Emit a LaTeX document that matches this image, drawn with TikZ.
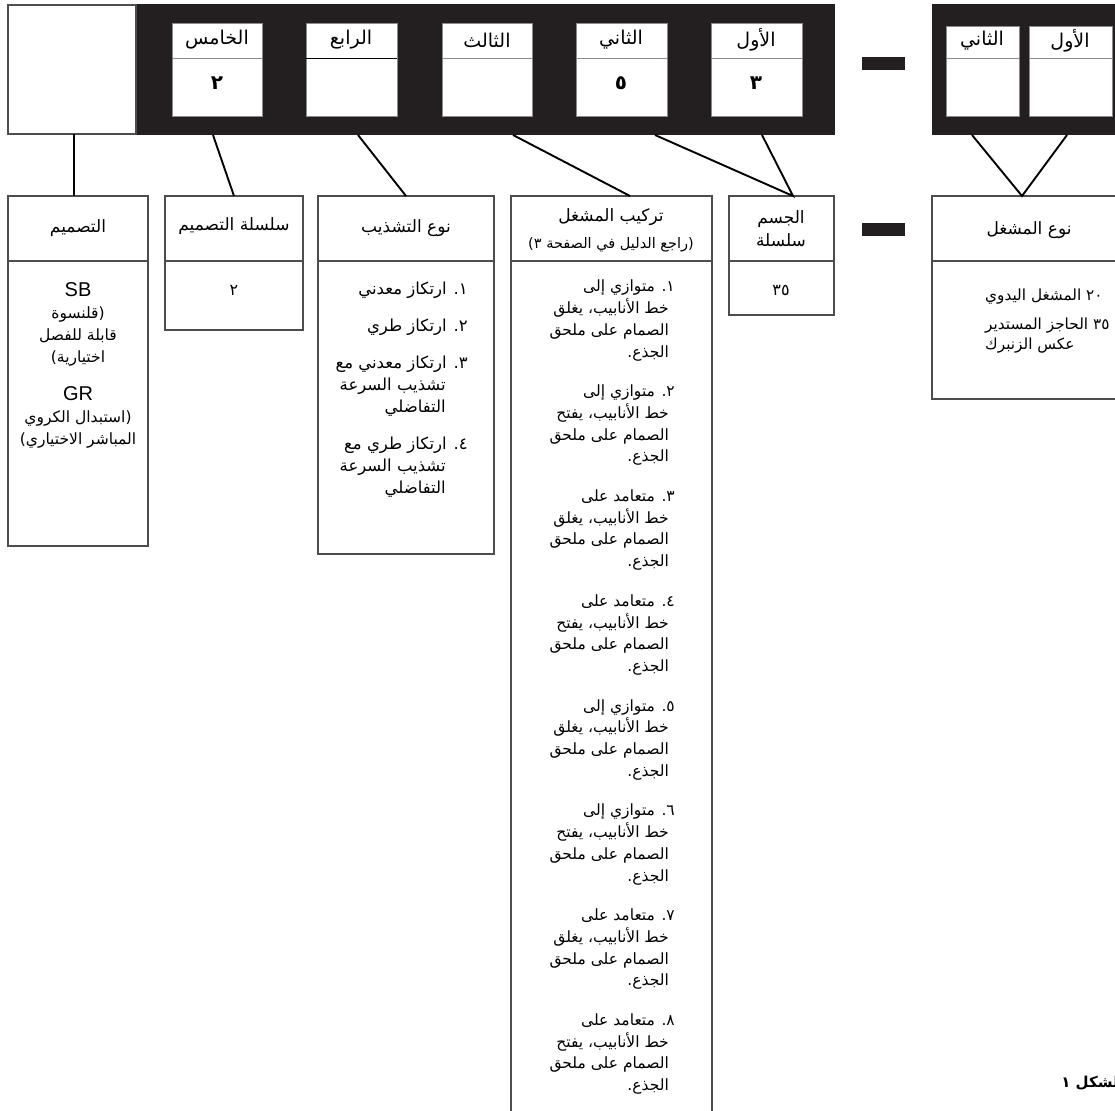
\documentclass[tikz,border=0pt]{standalone}
\usepackage{fontspec}
\setmainfont{Liberation Sans}
\newfontfamily\arabicfont[Script=Arabic]{DejaVu Sans}
\TeXXeTstate=1

\definecolor{barblack}{HTML}{231F20}
\definecolor{slotgray}{HTML}{8A8A8A}
\definecolor{panelgray}{HTML}{4D4D4D}

\newcommand{\arline}[1]{\beginR #1\endR}

\begin{document}
\begin{tikzpicture}[x=1pt, y=-1pt,
    bar/.style={fill=barblack, inner sep=0pt, outer sep=0pt, anchor=north west},
    slot/.style={fill=white, draw=slotgray, line width=0.8pt, inner sep=0pt, outer sep=0pt, anchor=north west},
    panel/.style={fill=white, draw=panelgray, line width=1.1pt, inner sep=0pt, outer sep=0pt, anchor=north west},
    slotline/.style={draw=slotgray, line width=1pt},
    panelline/.style={draw=panelgray, line width=1.1pt},
    link/.style={line width=1.9pt, black},
    slotlbl/.style={font=\arabicfont\fontsize{19}{22}\selectfont, inner sep=0pt},
    slotval/.style={font=\arabicfont\bfseries\fontsize{20}{22}\selectfont, inner sep=0pt},
    hdr/.style={font=\arabicfont\fontsize{17}{23}\selectfont, align=center, inner sep=0pt},
    subhdr/.style={font=\arabicfont\fontsize{14.5}{16}\selectfont, inner sep=0pt},
    bodytxt/.style={font=\arabicfont\fontsize{16}{22}\selectfont, inner sep=0pt}]

\useasboundingbox (0,0) rectangle (1115,1110);
\clip (0,0) rectangle (1115,1110);

% Top bars
\node[bar, minimum width=699pt, minimum height=131pt] (codebar) at (136,4) {};
\node[panel, minimum width=128pt, minimum height=129pt] (blank) at (8,5) {};
\node[bar, minimum width=43pt, minimum height=13pt] (dashtop) at (862,57) {};
\node[bar, minimum width=200pt, minimum height=131pt] (actbar) at (932,4) {};

% Slots of the code
\node[slot, minimum width=90pt, minimum height=93pt] (fifth) at (172,23) {};
\node[slot, minimum width=91pt, minimum height=93pt] (fourth) at (306,23) {};
\node[slot, minimum width=90pt, minimum height=93pt] (third) at (442,23) {};
\node[slot, minimum width=91pt, minimum height=93pt] (second) at (576,23) {};
\node[slot, minimum width=91pt, minimum height=93pt] (first) at (711,23) {};
\node[slot, minimum width=73pt, minimum height=90pt] (actsecond) at (946,26) {};
\node[slot, minimum width=83pt, minimum height=90pt] (actfirst) at (1029,26) {};

\draw[slotline] ([yshift=-36pt]fifth.north west) -- ([yshift=-36pt]fifth.north east);
\draw[slotline, draw=black] ([yshift=-36pt]fourth.north west) -- ([yshift=-36pt]fourth.north east);
\draw[slotline] ([yshift=-36pt]third.north west) -- ([yshift=-36pt]third.north east);
\draw[slotline] ([yshift=-36pt]second.north west) -- ([yshift=-36pt]second.north east);
\draw[slotline] ([yshift=-36pt]first.north west) -- ([yshift=-36pt]first.north east);
\draw[slotline] ([yshift=-33pt]actsecond.north west) -- ([yshift=-33pt]actsecond.north east);
\draw[slotline] ([yshift=-33pt]actfirst.north west) -- ([yshift=-33pt]actfirst.north east);

\node[slotlbl] (fifthlbl) at (217,40) {\arline{الخامس}};
\node[slotlbl] (fourthlbl) at (351,40) {\arline{الرابع}};
\node[slotlbl] (thirdlbl) at (487,40) {\arline{الثالث}};
\node[slotlbl] (secondlbl) at (621,40) {\arline{الثاني}};
\node[slotlbl] (firstlbl) at (756,40) {\arline{الأول}};
\node[slotlbl] (actsecondlbl) at (982,41) {\arline{الثاني}};
\node[slotlbl] (actfirstlbl) at (1070,41) {\arline{الأول}};

\node[slotval] (fifthval) at (217,83) {\arline{٢}};
\node[slotval] (secondval) at (621,83) {\arline{٥}};
\node[slotval] (firstval) at (756,83) {\arline{٣}};

% Lower panels
\node[panel, minimum width=140pt, minimum height=350pt] (design) at (8,196) {};
\node[panel, minimum width=138pt, minimum height=134pt] (dseries) at (165,196) {};
\node[panel, minimum width=176pt, minimum height=358pt] (trim) at (318,196) {};
\node[panel, minimum width=201pt, minimum height=930pt] (mount) at (511,196) {};
\node[panel, minimum width=105pt, minimum height=119pt] (body) at (729,196) {};
\node[bar, minimum width=43pt, minimum height=13pt] (dashlow) at (862,223) {};
\node[panel, minimum width=200pt, minimum height=203pt] (acttype) at (932,196) {};

\foreach \p in {design, dseries, trim, mount, body, acttype}
  \draw[panelline] ([yshift=-65pt]\p.north west) -- ([yshift=-65pt]\p.north east);

% Connectors
\coordinate (b5) at (213,135);
\coordinate (b4) at (358,135);
\coordinate (b3) at (513,135);
\coordinate (b2) at (655,135);
\coordinate (b1) at (762,135);
\coordinate (m3) at (630,196);
\coordinate (m1) at (793,196);
\coordinate (ra) at (972,135);
\coordinate (rb) at (1067,135);
\coordinate (ma) at (1022,196);

\draw[link] ([xshift=2pt]blank.south) -- ([xshift=2pt]blank.south |- design.north);
\draw[link] (b5) -- (dseries.north);
\draw[link] (b4) -- (trim.north);
\draw[link] (b3) -- (m3);
\draw[link] (b2) -- (m1) -- (b1);
\draw[link] (ra) -- (ma) -- (rb);

% Headers
\node[hdr] (designhd) at (78,228) {\arline{التصميم}};
\node[hdr] (dserieshd) at (234,226) {\arline{سلسلة التصميم}};
\node[hdr] (trimhd) at (406,228) {\arline{نوع التشذيب}};
\node[hdr] (mounthd) at (611,217) {\arline{تركيب المشغل}};
\node[subhdr] (mountsub) at (611,245) {\arline{(راجع الدليل في الصفحة ٣)}};
\node[hdr] (bodyhd) at (781,229) {\arline{الجسم}\\\arline{سلسلة}};
\node[hdr] (acthd) at (1029,230) {\arline{نوع المشغل}};

% Panel contents
\node[bodytxt, anchor=north, align=center, font=\arabicfont\fontsize{15.5}{22}\selectfont] (designtxt) at (78,282) {%
  {\rmfamily\fontsize{20}{22}\selectfont SB}\\
  \arline{(قلنسوة}\\ \arline{قابلة للفصل}\\ \arline{اختيارية)}\\[16pt]
  {\rmfamily\fontsize{20}{22}\selectfont GR}\\
  \arline{(استبدال الكروي}\\ \arline{المباشر الاختياري)}};
\node[bodytxt] (dseriesval) at (234,290) {\arline{٢}};
\node[bodytxt, anchor=north east, align=right, font=\arabicfont\fontsize{16.5}{22}\selectfont] (trimtxt) at (468,282) {%
  \arline{١. ارتكاز معدني}\\[15pt]
  \arline{٢. ارتكاز طري}\\[15pt]
  \arline{٣. ارتكاز معدني مع}\\ \arline{تشذيب السرعة}\kern22pt\\ \arline{التفاضلي}\kern22pt\\[15pt]
  \arline{٤. ارتكاز طري مع}\\ \arline{تشذيب السرعة}\kern22pt\\ \arline{التفاضلي}\kern22pt};
\node[bodytxt, anchor=north east, align=right, font=\arabicfont\fontsize{15.5}{21.7}\selectfont] (mounttxt) at (675,280) {%
  \arline{١. متوازي إلى}\\ \arline{خط الأنابيب، يغلق}\kern6pt\\ \arline{الصمام على ملحق}\kern6pt\\ \arline{الجذع.}\kern6pt\\[18pt]
  \arline{٢. متوازي إلى}\\ \arline{خط الأنابيب، يفتح}\kern6pt\\ \arline{الصمام على ملحق}\kern6pt\\ \arline{الجذع.}\kern6pt\\[18pt]
  \arline{٣. متعامد على}\\ \arline{خط الأنابيب، يغلق}\kern6pt\\ \arline{الصمام على ملحق}\kern6pt\\ \arline{الجذع.}\kern6pt\\[18pt]
  \arline{٤. متعامد على}\\ \arline{خط الأنابيب، يفتح}\kern6pt\\ \arline{الصمام على ملحق}\kern6pt\\ \arline{الجذع.}\kern6pt\\[18pt]
  \arline{٥. متوازي إلى}\\ \arline{خط الأنابيب، يغلق}\kern6pt\\ \arline{الصمام على ملحق}\kern6pt\\ \arline{الجذع.}\kern6pt\\[18pt]
  \arline{٦. متوازي إلى}\\ \arline{خط الأنابيب، يفتح}\kern6pt\\ \arline{الصمام على ملحق}\kern6pt\\ \arline{الجذع.}\kern6pt\\[18pt]
  \arline{٧. متعامد على}\\ \arline{خط الأنابيب، يغلق}\kern6pt\\ \arline{الصمام على ملحق}\kern6pt\\ \arline{الجذع.}\kern6pt\\[18pt]
  \arline{٨. متعامد على}\\ \arline{خط الأنابيب، يفتح}\kern6pt\\ \arline{الصمام على ملحق}\kern6pt\\ \arline{الجذع.}\kern6pt};
\node[bodytxt] (bodyval) at (781,290) {\arline{٣٥}};
\node[bodytxt, anchor=north west, align=left, font=\arabicfont\fontsize{15.3}{20}\selectfont] (acttxt) at (985,289) {%
  \arline{٢٠ المشغل اليدوي}\\[9pt]
  \arline{٣٥ الحاجز المستدير}\\ \arline{عكس الزنبرك}};

% Figure label
\node[anchor=east, font=\arabicfont\bfseries\fontsize{15}{17}\selectfont, inner sep=0pt] (figlbl) at (1124,1083) {\arline{الشكل ١}};

\end{tikzpicture}
\end{document}
